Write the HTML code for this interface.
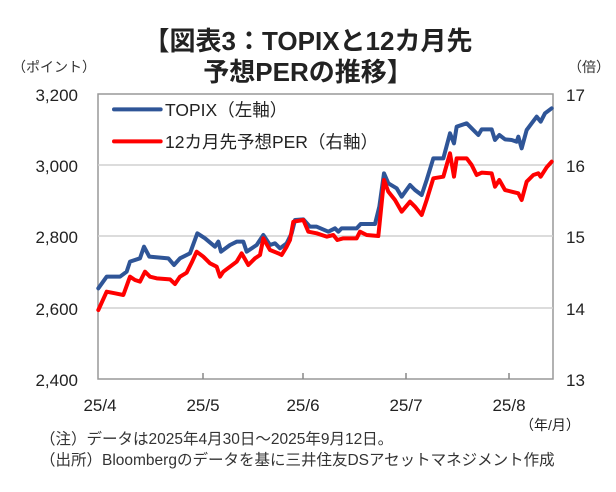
<!DOCTYPE html>
<html><head><meta charset="utf-8"><style>
body{margin:0;background:#fff;width:616px;height:487px;overflow:hidden;font-family:"Liberation Sans","Noto Sans CJK JP",sans-serif;}
</style></head><body>
<svg width="616" height="487" xmlns="http://www.w3.org/2000/svg" font-family="Liberation Sans, Noto Sans CJK JP, sans-serif">
<text x="308" y="50" text-anchor="middle" font-size="26" font-weight="bold" fill="#222">【図表3：TOPIXと12カ月先</text>
<text x="308" y="81" text-anchor="middle" font-size="26" font-weight="bold" fill="#222">予想PERの推移】</text>
<text x="12" y="72" font-size="14" fill="#333">（ポイント）</text>
<text x="568" y="72" font-size="14" fill="#333">（倍）</text>
<rect x="98" y="94" width="455" height="285" fill="#fff" stroke="#999" stroke-width="1.5"/>
<g stroke="#d0d0d0" stroke-width="1.5">
<line x1="98" y1="165" x2="553" y2="165"/><line x1="98" y1="236" x2="553" y2="236"/><line x1="98" y1="308" x2="553" y2="308"/></g>
<g stroke="#888" stroke-width="1.5">
<line x1="203" y1="373" x2="203" y2="379"/><line x1="303" y1="373" x2="303" y2="379"/><line x1="406" y1="373" x2="406" y2="379"/><line x1="509" y1="373" x2="509" y2="379"/></g>
<g font-size="17" fill="#222" text-anchor="end">
<text x="78" y="101">3,200</text><text x="78" y="172">3,000</text><text x="78" y="243">2,800</text><text x="78" y="315">2,600</text><text x="78" y="386">2,400</text></g>
<g font-size="17" fill="#222">
<text x="566" y="101">17</text><text x="566" y="172">16</text><text x="566" y="243">15</text><text x="566" y="315">14</text><text x="566" y="386">13</text></g>
<g font-size="17" fill="#222" text-anchor="middle">
<text x="100" y="411">25/4</text><text x="203" y="411">25/5</text><text x="303" y="411">25/6</text><text x="406" y="411">25/7</text><text x="509" y="411">25/8</text></g>
<text x="520" y="430" font-size="14" fill="#222">（年/月）</text>
<g transform="translate(90,80) scale(0.33333)" fill="none" stroke-width="12" stroke-linejoin="round" stroke-linecap="round">
<polyline stroke="#2f5597" points="25,625 50,590 90,590 110,575 120,545 150,535 162,500 178,530 235,535 252,555 270,535 300,520 322,460 345,475 375,500 385,485 393,515 420,495 440,485 460,485 470,515 500,495 520,465 540,495 555,490 570,505 590,490 605,460 615,420 640,418 660,440 680,440 715,455 735,445 745,455 755,445 800,445 812,432 855,432 868,380 882,280 895,310 920,325 935,350 960,315 975,330 995,345 1010,300 1030,235 1060,235 1080,160 1092,190 1100,140 1130,130 1145,145 1165,165 1175,148 1205,148 1215,180 1228,165 1245,178 1265,180 1280,185 1285,170 1295,205 1310,150 1325,130 1340,110 1352,125 1365,100 1385,85"/>
<polyline stroke="#ff0000" points="25,690 50,635 75,640 100,645 120,590 135,600 150,605 165,575 180,590 200,595 240,598 255,612 270,590 290,578 305,548 320,515 340,530 360,550 380,560 390,590 400,575 420,560 440,545 455,520 475,555 495,535 510,525 520,475 540,510 565,520 575,525 590,500 600,480 610,425 640,420 655,455 680,460 710,470 730,465 742,480 760,475 800,475 810,455 830,465 865,468 882,300 895,335 915,360 935,395 960,365 975,380 995,405 1010,360 1030,295 1060,290 1080,220 1092,290 1100,235 1130,235 1145,255 1160,285 1175,278 1205,280 1215,320 1228,300 1245,330 1265,335 1285,340 1295,360 1310,305 1330,285 1345,280 1352,290 1370,262 1385,245"/>
<line x1="72" y1="88" x2="212" y2="88" stroke="#2f5597"/>
<line x1="72" y1="184" x2="212" y2="184" stroke="#ff0000"/>
</g>
<text x="165" y="116" font-size="17.5" fill="#222">TOPIX（左軸）</text>
<text x="165" y="148" font-size="17.5" fill="#222">12カ月先予想PER（右軸）</text>
<text x="40" y="444" font-size="15.5" fill="#333">（注）データは2025年4月30日～2025年9月12日。</text>
<text x="40" y="465" font-size="15.5" fill="#333">（出所）Bloombergのデータを基に三井住友DSアセットマネジメント作成</text>
</svg>
</body></html>
